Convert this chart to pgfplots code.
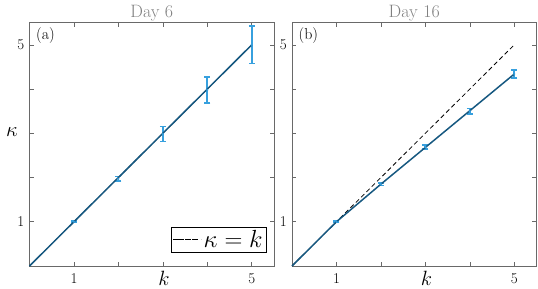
\documentclass[border=0pt]{standalone}
\usepackage{pgfplots}
\pgfplotsset{compat=1.18}
\definecolor{fitblue}{RGB}{22,88,128}
\definecolor{errblue}{RGB}{55,160,222}
\definecolor{framegray}{RGB}{105,105,105}
\definecolor{titlegray}{RGB}{128,128,128}
\pgfplotsset{
 panel/.style={
  scale only axis, width=244.5bp, height=243.3bp,
  anchor=south west,
  xmin=0,xmax=5.5,ymin=0,ymax=5.5,
  xtick={1,2,3,4,5}, xticklabels={1,,,,5},
  ytick={1,2,3,4,5}, yticklabels={1,,,,5},
  tick align=inside, major tick length=4bp,
  axis line style={framegray, line width=0.8pt},
  tick style={framegray, line width=0.6pt},
  xticklabel style={font=\fontsize{15}{15}\selectfont, inner sep=0pt, yshift=-7bp},
  yticklabel style={font=\fontsize{15}{15}\selectfont, inner sep=0pt, xshift=-5bp},
  every axis title/.style={at={(axis description cs:0.5,1)}, anchor=base, inner sep=0pt, yshift=5bp, font=\fontsize{18}{18}\selectfont, text=titlegray},
  every axis x label/.style={at={(axis description cs:0.55,0)}, anchor=north, inner sep=0pt, yshift=-5bp, font=\fontsize{21}{21}\selectfont},
  every axis y label/.style={at={(axis description cs:0,0.55)}, anchor=east, inner sep=0pt, xshift=-11.5bp, font=\fontsize{22}{22}\selectfont},
  xlabel={$k$},
  clip=false,
 },
}
\begin{document}
\begin{tikzpicture}
\begin{axis}[panel, at={(29.5bp,23bp)}, title={Day 6}, ylabel={$\kappa$},
  legend style={at={(axis description cs:1,0)}, anchor=south east, xshift=-7bp, yshift=13bp,
    draw=black, line width=0.6pt, font=\fontsize{23}{23}\selectfont, inner xsep=2bp, inner ysep=1.5bp,
    nodes={inner sep=2bp}},
  legend cell align=left,
  legend image code/.code={\path (0bp,0bp) -- (28bp,0bp); \draw[#1, dash pattern=on 4.5bp off 3bp] (4bp,0bp) -- (23bp,0bp);}]
\addplot[black, line width=0.8pt, dash pattern=on 4bp off 3bp] coordinates {(0,0) (5,5)};
\addlegendentry{$\kappa=k$}
\addplot[forget plot, errblue, only marks, mark=*, mark size=0.9pt,
   error bars/.cd, y dir=both, y explicit,
   error bar style={line width=1.8pt, errblue},
   error mark options={line width=1.5pt, mark size=3bp, errblue, rotate=90}]
 table[x=k, y=v, y error=e] {
k v e
1 1.00 0.02
2 1.97 0.05
3 2.98 0.17
4 3.98 0.29
5 5.00 0.42
};
\addplot[fitblue, line width=1.5pt, forget plot] coordinates {(0,0) (5,5)};
\node[anchor=north west, inner sep=0pt, font=\fontsize{16}{16}\selectfont] at (axis description cs:0,1) [xshift=6.5bp, yshift=-4.5bp] {(a)};
\end{axis}
\begin{axis}[panel, at={(292bp,23bp)}, title={Day 16}]
\addplot[black, line width=0.8pt, dash pattern=on 4.5bp off 3bp] coordinates {(0,0) (5,5)};
\addplot[errblue, only marks, mark=*, mark size=0.9pt,
   error bars/.cd, y dir=both, y explicit,
   error bar style={line width=1.8pt, errblue},
   error mark options={line width=1.5pt, mark size=3bp, errblue, rotate=90}]
 table[x=k, y=v, y error=e] {
k v e
1 1.00 0.02
2 1.85 0.03
3 2.69 0.04
4 3.50 0.06
5 4.34 0.09
};
\addplot[fitblue, line width=1.5pt] coordinates {(0,0) (1,1) (2,1.85) (3,2.68) (4,3.51) (5,4.34)};
\node[anchor=north west, inner sep=0pt, font=\fontsize{16}{16}\selectfont] at (axis description cs:0,1) [xshift=6.5bp, yshift=-4.5bp] {(b)};
\end{axis}
\pgfresetboundingbox
\path[use as bounding box] (0,0) rectangle (538bp,289bp);
\end{tikzpicture}
\end{document}
